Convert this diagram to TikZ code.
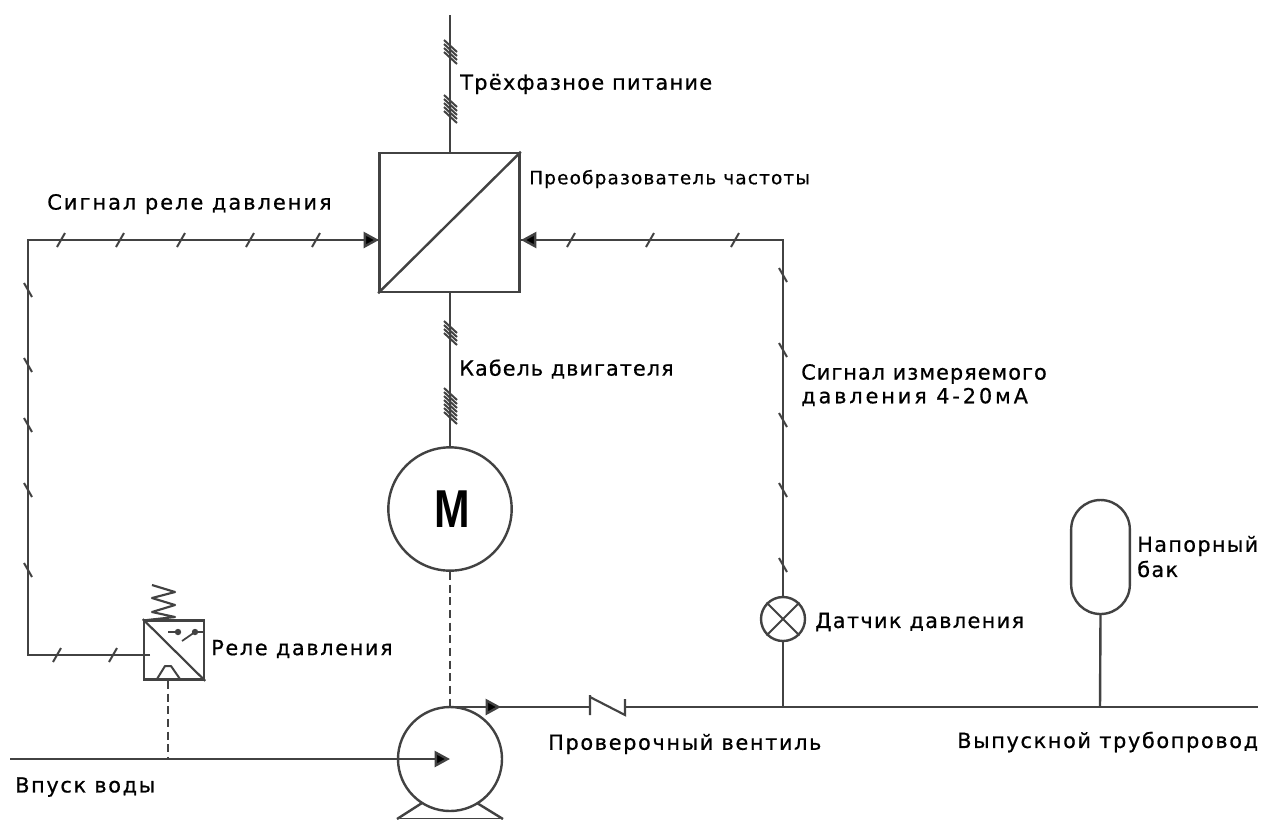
\documentclass[tikz,border=0pt]{standalone}
\usepackage{fontspec}
\setmainfont[FakeBold=0.7]{DejaVu Sans}
\newfontfamily\mfont{Liberation Sans}
\usetikzlibrary{arrows.meta}
\definecolor{ln}{HTML}{424242}
\newcommand{\spaced}[1]{\addfontfeatures{LetterSpace=#1}}
\tikzset{
 x=0.75pt,y=-0.75pt,
 wire/.style={draw=ln,line width=1.8pt},
 tickm/.style={draw=ln,line width=1.5pt},
 arr/.style={wire,-{Triangle[length=11.5pt,width=12pt,fill=black]}},
 dashline/.style={draw=ln,line width=1.5pt,dash pattern=on 6pt off 3.5pt},
 lab/.style={anchor=west,inner sep=0pt,text=black,font=\fontsize{15.6}{18}\selectfont\spaced{6.5}},
 labn/.style={lab,font=\fontsize{15.6}{18}\selectfont\spaced{5}},
 labw/.style={lab,font=\fontsize{15.6}{18}\selectfont\spaced{8}},
 labs/.style={lab,font=\fontsize{13.8}{16}\selectfont\spaced{6.5}},
 shp/.style={draw=ln,line width=1.8pt,fill=white,inner sep=0pt},
}
\begin{document}
\begin{tikzpicture}
\useasboundingbox (0,0) rectangle (1262,819);
\fill[white] (0,0) rectangle (1262,819);
% anchors
\coordinate (top) at (450,15);
\coordinate (sigl) at (28,240);
\coordinate (siglb) at (28,655);
\coordinate (sigr) at (783,240);
\coordinate (pipe0) at (450,707);
\coordinate (pipeend) at (1258,707);
\coordinate (water) at (10,759);
\coordinate (watertip) at (450,759);
\coordinate (vb) at (591,707);
\coordinate (ve) at (626,707);
\coordinate (sj) at (783,707);
\coordinate (tj) at (1100,707);
\coordinate (rj) at (168,759);
\coordinate (pipetip) at (501,707);
% nodes
\node[shp,minimum width=105.2pt,minimum height=104.2pt] (conv) at (449.5,222.5) {};
\node[shp,circle,minimum size=92.5pt] (motor) at (450,509) {};
\node[shp,circle,minimum size=78pt] (pump) at (450,759) {};
\node[shp,circle,minimum size=33pt] (sensor) at (783,619) {};
\node[shp,rounded corners=22pt,minimum width=44pt,minimum height=85.5pt] (tank) at (1100.5,557) {};
\node[shp,minimum width=45pt,minimum height=44.5pt] (relay) at (174,650) {};
\coordinate (relayin) at (150,655);
% connectors
\draw[wire] (top) -- (conv.north -| top);
\draw[wire] (conv.south -| top) -- (motor.north);
\draw[dashline] (motor.south) -- (pipe0);
\draw[wire] (pipe0) -- (vb);
\draw[wire] (ve) -- (pipeend);
\draw[arr] (pipe0) -- (pipetip);
\draw[arr] (water) -- (watertip);
\draw[wire] (relayin) -- (siglb) -- (sigl) -- (379,240);
\draw[arr] (300,240) -- (379,240);
\draw[wire] (sensor.north) -- (sigr) -- (521,240);
\draw[arr] (600,240) -- (521,240);
\draw[wire] (sensor.south) -- (sj);
\draw[wire] (tank.south) -- (tj);
\draw[dashline] (relay.south -| rj) -- (rj);
% conv diagonal
\draw[wire] (conv.south west) -- (conv.north east);
% sensor cross
\draw[draw=ln,line width=1.5pt] (sensor.north west) -- (sensor.south east) (sensor.north east) -- (sensor.south west);
% relay details
\draw[draw=ln,line width=1.6pt] (relay.north west) -- (relay.south east);
\draw[draw=ln,line width=1.5pt,line join=round] (157,679) -- (165,666) -- (171,666) -- (180,679);
\draw[draw=ln,line width=1.3pt] (168,632) -- (178,632);
\draw[fill=ln,draw=none] (178,632) circle (3.2);
\draw[draw=ln,line width=1.3pt] (182,641) -- (195,632) -- (203,632);
\draw[fill=ln,draw=none] (195,632) circle (3.2);
% spring
\draw[draw=ln,line width=1.6pt,line join=round] (147,620) -- (175,617) -- (152,612) -- (175,605) -- (152,598) -- (175,592) -- (152,585);
% check valve
\draw[draw=ln,line width=1.6pt] (590,695) -- (590,715) (590,697) -- (625,715) -- (625,699);
% pump legs
\draw[wire] (422,803) -- (397,819) (477,803) -- (503,819);
\draw[draw=ln,line width=1pt] (400,818.5) -- (500,818.5);
% ticks
\foreach \y in {46,50,54,58,101,105,109,113,117,327,331,335,339,394,398,402,406,410,414,418} {
 \draw[tickm] (444,\y-6) -- (457,\y+6);
}
\foreach \x in {57,113} \draw[tickm] (\x-4,662) -- (\x+4,648);
\foreach \x in {61,120,181,250,316,571,650,735} \draw[tickm] (\x-4,247) -- (\x+4,233);
\foreach \y in {290,365,425,490,570} \draw[tickm] (24,\y-7) -- (32,\y+7);
\foreach \y in {275,350,420,490,565} \draw[tickm] (779,\y-7) -- (787,\y+7);
% M
\node[inner sep=0pt,text=black] (mlabel) at (452,509) {\mfont\bfseries\fontsize{40}{40}\selectfont\scalebox{0.8}[1]{M}};
% labels
\node[lab] (l1) at (460,84) {Трёхфазное питание};
\node[labs] (l2) at (529,179) {Преобразователь частоты};
\node[lab,font=\fontsize{15.7}{18}\selectfont\spaced{9.5}] (l3) at (47,204) {Сигнал реле давления};
\node[labn] (l4) at (459,369) {Кабель двигателя};
\node[labn] (l5) at (801,374) {Сигнал измеряемого};
\node[lab,font=\fontsize{15.6}{18}\selectfont\spaced{14}] (l6) at (801,397) {давления 4-20мА};
\node[lab] (l7) at (1137,546) {Напорный};
\node[lab] (l8) at (1137,569) {бак};
\node[lab] (l9) at (815,622) {Датчик давления};
\node[labw] (l10) at (211,649) {Реле давления};
\node[labw] (l11) at (548,744) {Проверочный вентиль};
\node[labw] (l12) at (957,742) {Выпускной трубопровод};
\node[labw] (l13) at (15,787) {Впуск воды};
\end{tikzpicture}
\end{document}
